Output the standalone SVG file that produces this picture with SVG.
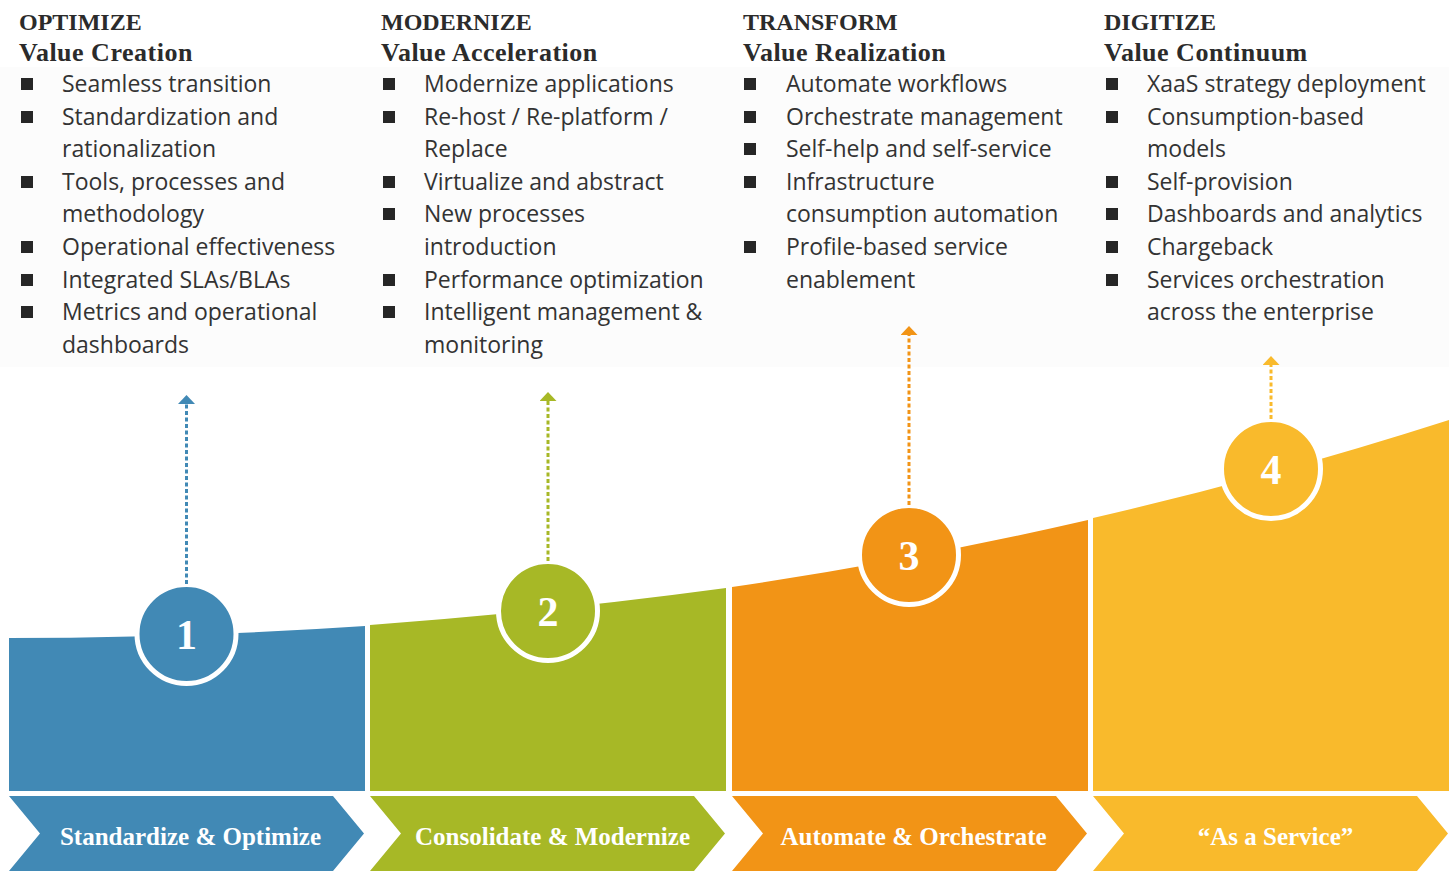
<svg xmlns="http://www.w3.org/2000/svg" width="1449" height="871" viewBox="0 0 1449 871">
<style>
.hd{font-family:"Liberation Serif","Times New Roman",serif;font-weight:bold;font-size:24px;fill:#2b2b2b}
.sub{font-family:"Liberation Serif","Times New Roman",serif;font-weight:bold;font-size:26px;letter-spacing:0.5px;fill:#2b2b2b}
.tx{font-family:"Open Sans","Liberation Sans",sans-serif;font-size:23px;fill:#333333}
.bl{fill:#262626}
.num{font-family:"Liberation Serif","Times New Roman",serif;font-weight:bold;font-size:42px;fill:#ffffff;text-anchor:middle}
.cv{font-family:"Liberation Serif","Times New Roman",serif;font-weight:bold;font-size:25px;fill:#ffffff;text-anchor:middle}
.ring{stroke:#ffffff;stroke-width:5}
.dash{fill:none;stroke-width:3;stroke-dasharray:4 2.5}
</style>
<defs>
<marker id="mBlue" markerUnits="userSpaceOnUse" viewBox="0 0 9 17" markerWidth="9" markerHeight="17" refX="0" refY="8.5" orient="auto"><path d="M0,0 L9,8.5 L0,17 Z" fill="#4189B5"/></marker>
<marker id="mGreen" markerUnits="userSpaceOnUse" viewBox="0 0 9 17" markerWidth="9" markerHeight="17" refX="0" refY="8.5" orient="auto"><path d="M0,0 L9,8.5 L0,17 Z" fill="#A7B826"/></marker>
<marker id="mOrange" markerUnits="userSpaceOnUse" viewBox="0 0 9 17" markerWidth="9" markerHeight="17" refX="0" refY="8.5" orient="auto"><path d="M0,0 L9,8.5 L0,17 Z" fill="#F29416"/></marker>
<marker id="mYellow" markerUnits="userSpaceOnUse" viewBox="0 0 9 17" markerWidth="9" markerHeight="17" refX="0" refY="8.5" orient="auto"><path d="M0,0 L9,8.5 L0,17 Z" fill="#F9BA2C"/></marker>
</defs>
<rect x="0" y="0" width="1449" height="871" fill="#ffffff"/>
<rect x="0" y="67" width="1449" height="300" fill="#fcfcfc"/>

<g id="stage1">
<text class="hd" x="19" y="30">OPTIMIZE</text>
<text class="sub" x="19" y="61">Value Creation</text>
<rect class="bl" x="21" y="78" width="12" height="12"/>
<rect class="bl" x="21" y="111" width="12" height="12"/>
<rect class="bl" x="21" y="176" width="12" height="12"/>
<rect class="bl" x="21" y="241" width="12" height="12"/>
<rect class="bl" x="21" y="274" width="12" height="12"/>
<rect class="bl" x="21" y="306" width="12" height="12"/>
<text class="tx" x="62" y="92">Seamless transition</text>
<text class="tx" x="62" y="125">Standardization and</text>
<text class="tx" x="62" y="157">rationalization</text>
<text class="tx" x="62" y="190">Tools, processes and</text>
<text class="tx" x="62" y="222">methodology</text>
<text class="tx" x="62" y="255">Operational effectiveness</text>
<text class="tx" x="62" y="288">Integrated SLAs/BLAs</text>
<text class="tx" x="62" y="320">Metrics and operational</text>
<text class="tx" x="62" y="353">dashboards</text>
<path d="M9,638 Q187,638 365,626 L365,791 L9,791 Z" fill="#4189B5"/>
<circle class="ring" cx="186.5" cy="634" r="49.5" fill="#4189B5"/>
<text class="num" x="186.5" y="649">1</text>
<polygon points="9,796 333,796 364,833.5 333,871 9,871 40,833.5" fill="#4189B5"/>
<text class="cv" x="190.5" y="845">Standardize &amp; Optimize</text>
</g>

<g id="stage2">
<text class="hd" x="381" y="30">MODERNIZE</text>
<text class="sub" x="381" y="61">Value Acceleration</text>
<rect class="bl" x="383" y="78" width="12" height="12"/>
<rect class="bl" x="383" y="111" width="12" height="12"/>
<rect class="bl" x="383" y="176" width="12" height="12"/>
<rect class="bl" x="383" y="208" width="12" height="12"/>
<rect class="bl" x="383" y="274" width="12" height="12"/>
<rect class="bl" x="383" y="306" width="12" height="12"/>
<text class="tx" x="424" y="92">Modernize applications</text>
<text class="tx" x="424" y="125">Re-host / Re-platform /</text>
<text class="tx" x="424" y="157">Replace</text>
<text class="tx" x="424" y="190">Virtualize and abstract</text>
<text class="tx" x="424" y="222">New processes</text>
<text class="tx" x="424" y="255">introduction</text>
<text class="tx" x="424" y="288">Performance optimization</text>
<text class="tx" x="424" y="320">Intelligent management &amp;</text>
<text class="tx" x="424" y="353">monitoring</text>
<path d="M370,625 Q548,612 726,588 L726,791 L370,791 Z" fill="#A7B826"/>
<circle class="ring" cx="548" cy="611" r="49.5" fill="#A7B826"/>
<text class="num" x="548" y="626">2</text>
<polygon points="370,796 694,796 725,833.5 694,871 370,871 401,833.5" fill="#A7B826"/>
<text class="cv" x="552.5" y="845">Consolidate &amp; Modernize</text>
</g>

<g id="stage3">
<text class="hd" x="743" y="30">TRANSFORM</text>
<text class="sub" x="743" y="61">Value Realization</text>
<rect class="bl" x="744" y="78" width="12" height="12"/>
<rect class="bl" x="744" y="111" width="12" height="12"/>
<rect class="bl" x="744" y="143" width="12" height="12"/>
<rect class="bl" x="744" y="176" width="12" height="12"/>
<rect class="bl" x="744" y="241" width="12" height="12"/>
<text class="tx" x="786" y="92">Automate workflows</text>
<text class="tx" x="786" y="125">Orchestrate management</text>
<text class="tx" x="786" y="157">Self-help and self-service</text>
<text class="tx" x="786" y="190">Infrastructure</text>
<text class="tx" x="786" y="222">consumption automation</text>
<text class="tx" x="786" y="255">Profile-based service</text>
<text class="tx" x="786" y="288">enablement</text>
<path d="M732,587 Q910,561 1088,520 L1088,791 L732,791 Z" fill="#F29416"/>
<circle class="ring" cx="909" cy="555" r="49.5" fill="#F29416"/>
<text class="num" x="909" y="570">3</text>
<polygon points="732,796 1056,796 1087,833.5 1056,871 732,871 763,833.5" fill="#F29416"/>
<text class="cv" x="913.5" y="845">Automate &amp; Orchestrate</text>
</g>

<g id="stage4">
<text class="hd" x="1104" y="30">DIGITIZE</text>
<text class="sub" x="1104" y="61">Value Continuum</text>
<rect class="bl" x="1106" y="78" width="12" height="12"/>
<rect class="bl" x="1106" y="111" width="12" height="12"/>
<rect class="bl" x="1106" y="176" width="12" height="12"/>
<rect class="bl" x="1106" y="208" width="12" height="12"/>
<rect class="bl" x="1106" y="241" width="12" height="12"/>
<rect class="bl" x="1106" y="274" width="12" height="12"/>
<text class="tx" x="1147" y="92">XaaS strategy deployment</text>
<text class="tx" x="1147" y="125">Consumption-based</text>
<text class="tx" x="1147" y="157">models</text>
<text class="tx" x="1147" y="190">Self-provision</text>
<text class="tx" x="1147" y="222">Dashboards and analytics</text>
<text class="tx" x="1147" y="255">Chargeback</text>
<text class="tx" x="1147" y="288">Services orchestration</text>
<text class="tx" x="1147" y="320">across the enterprise</text>
<path d="M1093,518 Q1271,477 1449,420 L1449,791 L1093,791 Z" fill="#F9BA2C"/>
<circle class="ring" cx="1271" cy="469" r="49.5" fill="#F9BA2C"/>
<text class="num" x="1271" y="484">4</text>
<polygon points="1093,796 1417,796 1448,833.5 1417,871 1093,871 1124,833.5" fill="#F9BA2C"/>
<text class="cv" x="1275.5" y="845">“As a Service”</text>
</g>

<g id="connectors">
<line class="dash" x1="186.5" y1="584" x2="186.5" y2="404" stroke="#4189B5" marker-end="url(#mBlue)"/>
<line class="dash" x1="548" y1="561" x2="548" y2="401" stroke="#A7B826" marker-end="url(#mGreen)"/>
<line class="dash" x1="909" y1="505" x2="909" y2="335" stroke="#F29416" marker-end="url(#mOrange)"/>
<line class="dash" x1="1271" y1="419" x2="1271" y2="365" stroke="#F9BA2C" marker-end="url(#mYellow)"/>
</g>
</svg>
